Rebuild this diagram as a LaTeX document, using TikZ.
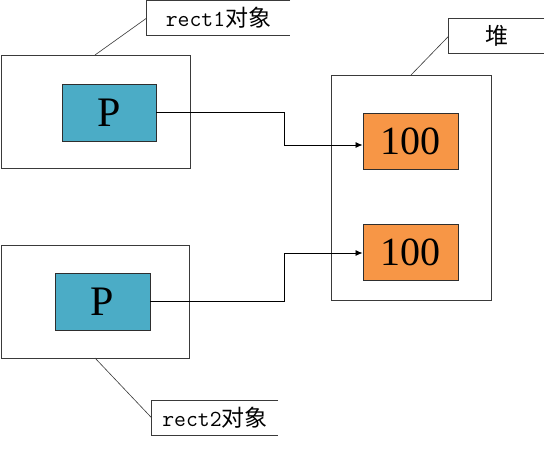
\documentclass[tikz,border=0pt]{standalone}
\usepackage{fontspec}
\setmainfont{Liberation Serif}
\newfontfamily\cjk{Noto Sans CJK SC}
\usetikzlibrary{arrows.meta}
\definecolor{tealfill}{HTML}{4BACC6}
\definecolor{orangefill}{HTML}{F79646}
\definecolor{edgegray}{HTML}{3A3A3A}
\begin{document}
\begin{tikzpicture}[x=1pt,y=-1pt,
  outerbox/.style={draw=edgegray,line width=1pt,inner sep=0pt,fill=white},
  ptrbox/.style={draw=edgegray!80!black,line width=0.9pt,fill=tealfill,inner sep=0pt,font=\fontsize{42}{42}\selectfont},
  valbox/.style={draw=edgegray!80!black,line width=0.9pt,fill=orangefill,inner sep=0pt,font=\fontsize{40}{40}\selectfont},
  lbl/.style={inner sep=0pt,font=\fontsize{23}{23}\selectfont},
  lblframe/.style={draw=edgegray,line width=0.9pt},
  callout/.style={draw=edgegray,line width=0.6pt},
  conn/.style={draw=black,line width=0.8pt},
  arr/.style={conn,-{Latex[length=7pt,width=6pt]}}]
\useasboundingbox[fill=white] (0,0) rectangle (556,451);
% outer boxes
\node[outerbox,minimum width=189pt,minimum height=113pt] (o1) at (95.5,111.5) {};
\node[outerbox,minimum width=188pt,minimum height=113pt] (o2) at (95,301.5) {};
\node[outerbox,minimum width=160pt,minimum height=225pt] (heap) at (411,187.5) {};
% inner boxes
\node[ptrbox,minimum width=94pt,minimum height=57pt] (p1) at (109,112.5) {P};
\node[ptrbox,minimum width=95pt,minimum height=57pt] (p2) at (102.5,301.5) {P};
\node[valbox,minimum width=95pt,minimum height=56pt] (v1) at (410.5,141) {100};
\node[valbox,minimum width=95pt,minimum height=56pt] (v2) at (410.5,252) {100};
% labels
\node[lbl,minimum width=143pt,minimum height=34pt] (l1) at (218.5,18) {{\ttfamily rect1}{\cjk 对象}};
\node[lbl,minimum width=95pt,minimum height=34pt] (l3) at (496.5,36) {{\cjk 堆}};
\node[lbl,minimum width=126pt,minimum height=34pt] (l2) at (215,418) {{\ttfamily rect2}{\cjk 对象}};
\foreach \n in {l1,l2,l3}
  \draw[lblframe] (\n.north east) -- (\n.north west) -- (\n.south west) -- (\n.south east);
% callout lines
\coordinate (c1) at (95,55);
\coordinate (c2) at (95,358);
\coordinate (c3) at (411,75);
\draw[callout] (c1) -- (l1.west);
\draw[callout] (c2) -- (l2.west);
\draw[callout] (c3) -- (l3.west);
% connectors
\coordinate (k1) at (284,145);
\coordinate (k2) at (284,253);
\draw[arr] (p1.east) -| (k1) -- (k1 -| v1.west);
\draw[arr] (p2.east) -| (k2) -- (k2 -| v2.west);
\end{tikzpicture}
\end{document}
